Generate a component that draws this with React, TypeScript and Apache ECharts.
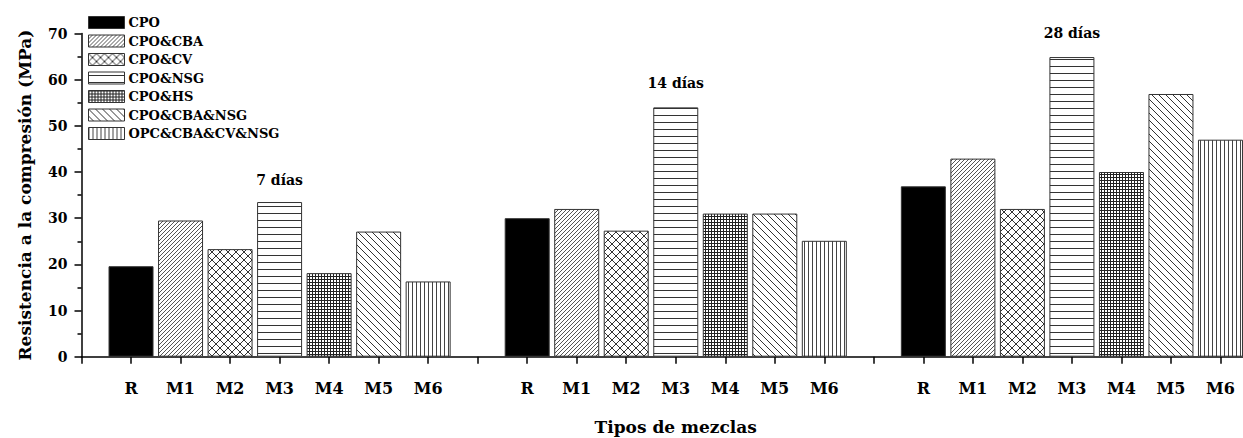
import React, { useEffect, useRef } from "react";
import * as echarts from "echarts";

// ---- data ----
const seriesNames = ["CPO", "CPO&CBA", "CPO&CV", "CPO&NSG", "CPO&HS", "CPO&CBA&NSG", "OPC&CBA&CV&NSG"];
const mixes = ["R", "M1", "M2", "M3", "M4", "M5", "M6"];
const ages = ["7 días", "14 días", "28 días"];
// compressive strength per mix, for 7, 14, 28 days
const valR = [19.6, 30.0, 36.9];
const valM1 = [29.5, 32.0, 42.9];
const valM2 = [23.3, 27.3, 32.0];
const valM3 = [33.5, 54.0, 64.9];
const valM4 = [18.1, 31.0, 40.0];
const valM5 = [27.1, 31.0, 56.9];
const valM6 = [16.3, 25.1, 47.0];
const allValues = [valR, valM1, valM2, valM3, valM4, valM5, valM6];
// annotation heights (MPa) for each age label
const ageLabelY = [38.3, 59.3, 70.1];
const yTicks = [0, 10, 20, 30, 40, 50, 60, 70];

const FONT = "DejaVu Serif";

function tile(w: number, h: number, draw: (ctx: CanvasRenderingContext2D) => void): any {
  const c = document.createElement("canvas");
  c.width = w;
  c.height = h;
  const ctx = c.getContext("2d")!;
  ctx.fillStyle = "#ffffff";
  ctx.fillRect(0, 0, w, h);
  draw(ctx);
  return { image: c.toDataURL(), repeat: "repeat", imageWidth: w, imageHeight: h };
}

function diag(s: number, color: string, dir: number, width = 1) {
  return (ctx: CanvasRenderingContext2D) => {
    ctx.strokeStyle = color;
    ctx.lineWidth = width;
    for (let k = -s; k <= s; k += s) {
      ctx.beginPath();
      if (dir > 0) {
        ctx.moveTo(k, s);
        ctx.lineTo(k + s, 0);
      } else {
        ctx.moveTo(k, 0);
        ctx.lineTo(k + s, s);
      }
      ctx.stroke();
    }
  };
}

function makePatterns(): any[] {
  return [
    "#000000",
    tile(4, 4, diag(4, "#555", 1)),
    tile(8, 8, (ctx) => {
      diag(8, "#333", 1)(ctx);
      diag(8, "#333", -1)(ctx);
    }),
    tile(4, 7, (ctx) => {
      ctx.fillStyle = "#333";
      ctx.fillRect(0, 3, 4, 1);
    }),
    tile(3, 3, (ctx) => {
      ctx.fillStyle = "#222";
      ctx.fillRect(0, 0, 3, 1);
      ctx.fillRect(0, 0, 1, 3);
    }),
    tile(7, 7, diag(7, "#333", -1)),
    tile(4, 4, (ctx) => {
      ctx.fillStyle = "#444";
      ctx.fillRect(0, 0, 1, 4);
    }),
  ];
}

export default function App() {
  const ref = useRef<HTMLDivElement>(null);
  useEffect(() => {
    if (!ref.current) return;
    const chart = echarts.init(ref.current, undefined, { renderer: "svg" });
    const patterns = makePatterns();
    const groupStride = mixes.length + 1;
    const tickLabels: string[] = [];
    for (let a = 0; a < ages.length; a++) {
      tickLabels.push("");
      mixes.forEach((m) => tickLabels.push(m));
    }
    tickLabels.push("");

    const barSeries = seriesNames.map((name, i) => ({
      name,
      type: "bar",
      barWidth: 45,
      barGap: "-100%",
      itemStyle: { color: patterns[i], borderColor: "#333", borderWidth: 1 },
      data: allValues[i].map((v, a) => [a * groupStride + i + 1, v]),
    }));

    const option: any = {
      animation: false,
      backgroundColor: "#ffffff",
      textStyle: { fontFamily: FONT, fontWeight: "bold", color: "#000" },
      grid: { left: 81.5, top: 33.5, bottom: 81.3, right: -27, containLabel: false, outerBoundsMode: "none" },
      legend: {
        orient: "vertical",
        left: 83,
        top: 11,
        itemWidth: 36,
        itemHeight: 12,
        itemGap: 5.5,
        icon: "rect",
        data: seriesNames,
        itemStyle: { borderColor: "#333", borderWidth: 1 },
        textStyle: { fontFamily: FONT, fontWeight: "bold", fontSize: 13, color: "#000", padding: [0, 0, 0, -1] },
        selectedMode: false,
      },
      xAxis: {
        type: "value",
        min: 0,
        max: tickLabels.length - 1,
        interval: 1,
        name: "Tipos de mezclas",
        nameLocation: "middle",
        nameGap: 62,
        nameTextStyle: { fontFamily: FONT, fontWeight: "bold", fontSize: 17, color: "#000" },
        axisLine: { show: true, lineStyle: { color: "#000", width: 1.5 } },
        axisTick: { show: true, inside: false, length: 7, lineStyle: { color: "#000", width: 1.5 } },
        axisLabel: {
          margin: 24,
          fontFamily: FONT,
          fontWeight: "bold",
          fontSize: 16,
          color: "#000",
          formatter: (v: number) => (Number.isInteger(v) ? tickLabels[v] ?? "" : ""),
        },
        splitLine: { show: false },
      },
      yAxis: {
        type: "value",
        min: yTicks[0],
        max: yTicks[yTicks.length - 1],
        interval: 10,
        name: "Resistencia a la compresión (MPa)",
        nameLocation: "middle",
        nameGap: 48,
        nameRotate: 90,
        nameTextStyle: { fontFamily: FONT, fontWeight: "bold", fontSize: 17, color: "#000" },
        axisLine: { show: true, lineStyle: { color: "#000", width: 1.5 } },
        axisTick: { show: true, inside: false, length: 7, lineStyle: { color: "#000", width: 1.5 } },
        minorTick: { show: true, splitNumber: 2, length: 4, lineStyle: { color: "#000", width: 1.5 } },
        axisLabel: { margin: 14, fontFamily: FONT, fontWeight: "bold", fontSize: 14, color: "#000" },
        splitLine: { show: false },
      },
      series: [
        ...barSeries,
        {
          name: "ages",
          type: "scatter",
          symbol: "circle",
          symbolSize: 0.01,
          clip: false,
          silent: true,
          itemStyle: { color: "#ffffff", opacity: 1 },
          label: {
            show: true,
            position: "inside",
            fontFamily: FONT,
            fontWeight: "bold",
            fontSize: 14,
            color: "#000",
            opacity: 1,
            textBorderWidth: 0,
            formatter: (p: any) => ages[p.dataIndex],
          },
          data: ages.map((_, a) => [a * groupStride + 4, ageLabelY[a]]),
        },
      ],
    };
    chart.setOption(option);
    return () => chart.dispose();
  }, []);
  return <div ref={ref} style={{ position: "fixed", left: 0, top: 0, width: 1243, height: 438 }} />;
}
